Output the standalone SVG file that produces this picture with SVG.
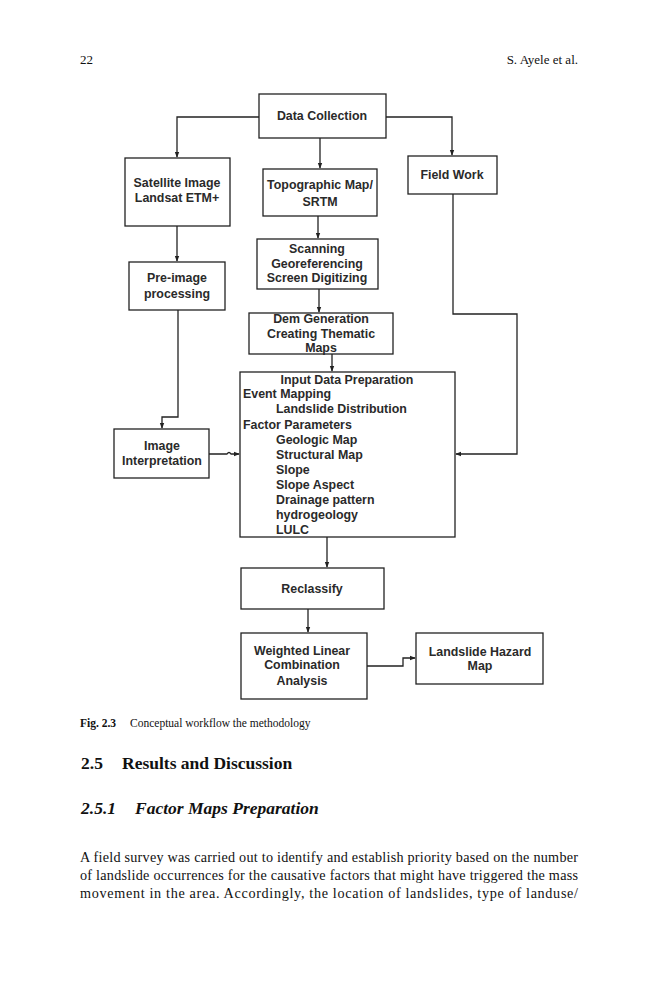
<svg xmlns="http://www.w3.org/2000/svg" width="659" height="1000" viewBox="0 0 659 1000">
<style>
.box{fill:#fff;stroke:#222;stroke-width:1.3}
.t{font-family:"Liberation Sans",Arial,sans-serif;font-weight:bold;font-size:12.4px;fill:#2a2a2a}
.c{text-anchor:middle}
.ln{fill:none;stroke:#222;stroke-width:1.3}
.pg{font-family:"Liberation Serif","Times New Roman",serif;fill:#111}
</style>
<defs>
<marker id="ah" viewBox="0 0 8 8" refX="7" refY="4" markerWidth="6" markerHeight="6" orient="auto" markerUnits="userSpaceOnUse">
<path d="M0,1 L8,4 L0,7 Z" fill="#222"/>
</marker>
</defs>
<rect width="659" height="1000" fill="#fff"/>
<text class="pg" x="80" y="64" font-size="13">22</text>
<text class="pg" x="578" y="64" font-size="13" text-anchor="end">S. Ayele et al.</text>

<g id="connectors">
<path class="ln" d="M259,117 H177 V157" marker-end="url(#ah)"/>
<path class="ln" d="M386,117 H452 V155" marker-end="url(#ah)"/>
<path class="ln" d="M320,138 V168" marker-end="url(#ah)"/>
<path class="ln" d="M177,226 V261" marker-end="url(#ah)"/>
<path class="ln" d="M318,216 V238" marker-end="url(#ah)"/>
<path class="ln" d="M319,289 V312" marker-end="url(#ah)"/>
<path class="ln" d="M332,354 V371" marker-end="url(#ah)"/>
<path class="ln" d="M178,310 V417 H162 V428" marker-end="url(#ah)"/>
<path class="ln" d="M209,454 H227 Q229,451 231,454 H239" marker-end="url(#ah)"/>
<path class="ln" d="M453,194 V314 H517 V454 H456" marker-end="url(#ah)"/>
<path class="ln" d="M327,537 V567" marker-end="url(#ah)"/>
<path class="ln" d="M308,609 V632" marker-end="url(#ah)"/>
<path class="ln" d="M367,666 H403 V658 H415" marker-end="url(#ah)"/>
</g>

<g id="data-collection">
<rect class="box" x="259" y="94" width="127" height="44"/>
<text class="t c" x="322" y="120">Data Collection</text>
</g>
<g id="satellite">
<rect class="box" x="125" y="158" width="105" height="68"/>
<text class="t c" x="177" y="187">Satellite Image</text>
<text class="t c" x="177" y="202">Landsat ETM+</text>
</g>
<g id="topographic">
<rect class="box" x="263" y="169" width="114" height="47"/>
<text class="t c" x="320" y="189">Topographic Map/</text>
<text class="t c" x="320" y="206">SRTM</text>
</g>
<g id="field-work">
<rect class="box" x="408" y="156" width="89" height="38"/>
<text class="t c" x="452" y="179">Field Work</text>
</g>
<g id="scanning">
<rect class="box" x="257" y="239" width="121" height="50"/>
<text class="t c" x="317" y="253">Scanning</text>
<text class="t c" x="317" y="268">Georeferencing</text>
<text class="t c" x="317" y="282">Screen Digitizing</text>
</g>
<g id="pre-image">
<rect class="box" x="129" y="262" width="96" height="48"/>
<text class="t c" x="177" y="282">Pre-image</text>
<text class="t c" x="177" y="298">processing</text>
</g>
<g id="dem">
<rect class="box" x="249" y="313" width="144" height="41"/>
<text class="t c" x="321" y="323">Dem Generation</text>
<text class="t c" x="321" y="338">Creating Thematic</text>
<text class="t c" x="321" y="352">Maps</text>
</g>
<g id="input-data">
<rect class="box" x="240" y="372" width="215" height="165"/>
<text class="t c" x="347" y="384">Input Data Preparation</text>
<text class="t" x="243" y="398">Event Mapping</text>
<text class="t" x="276" y="413">Landslide Distribution</text>
<text class="t" x="243" y="429">Factor Parameters</text>
<text class="t" x="276" y="444">Geologic Map</text>
<text class="t" x="276" y="459">Structural Map</text>
<text class="t" x="276" y="474">Slope</text>
<text class="t" x="276" y="489">Slope Aspect</text>
<text class="t" x="276" y="504">Drainage pattern</text>
<text class="t" x="276" y="519">hydrogeology</text>
<text class="t" x="276" y="534">LULC</text>
</g>
<g id="image-interpretation">
<rect class="box" x="114" y="429" width="95" height="49"/>
<text class="t c" x="162" y="450">Image</text>
<text class="t c" x="162" y="465">Interpretation</text>
</g>
<g id="reclassify">
<rect class="box" x="241" y="568" width="143" height="41"/>
<text class="t c" x="312" y="593">Reclassify</text>
</g>
<g id="wlc">
<rect class="box" x="241" y="633" width="126" height="66"/>
<text class="t c" x="302" y="655">Weighted Linear</text>
<text class="t c" x="302" y="669">Combination</text>
<text class="t c" x="302" y="685">Analysis</text>
</g>
<g id="hazard-map">
<rect class="box" x="416" y="633" width="127" height="51"/>
<text class="t c" x="480" y="656">Landslide Hazard</text>
<text class="t c" x="480" y="670">Map</text>
</g>

<text class="pg" x="80" y="727" font-size="11.5"><tspan font-weight="bold">Fig. 2.3</tspan><tspan x="130">Conceptual workflow the methodology</tspan></text>
<text class="pg" x="81" y="769" font-size="17.5" font-weight="bold">2.5<tspan x="122">Results and Discussion</tspan></text>
<text class="pg" x="81" y="814" font-size="17.5" font-weight="bold" font-style="italic">2.5.1<tspan x="135">Factor Maps Preparation</tspan></text>
<text class="pg" x="80" y="862" font-size="14.2" textLength="498" lengthAdjust="spacing">A field survey was carried out to identify and establish priority based on the number</text>
<text class="pg" x="80" y="880" font-size="14.2" textLength="498" lengthAdjust="spacing">of landslide occurrences for the causative factors that might have triggered the mass</text>
<text class="pg" x="80" y="898" font-size="14.2" textLength="498" lengthAdjust="spacing">movement in the area. Accordingly, the location of landslides, type of landuse/</text>
</svg>
